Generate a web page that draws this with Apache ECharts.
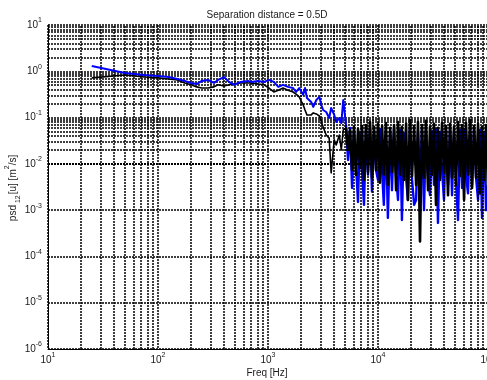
<!DOCTYPE html>
<html>
<head>
<meta charset="utf-8">
<script src="https://cdn.jsdelivr.net/npm/echarts@6/dist/echarts.min.js"></script>
<style>
html,body{margin:0;padding:0;background:#fff;}
#chart{width:487px;height:380px;}
</style>
</head>
<body>
<div id="chart"></div>
<script>
// ---- data ----
const freq = [
  25, 50, 75, 100, 125, 150, 175, 200, 225, 250,
  284, 323, 351, 398, 442, 490, 566, 658, 700, 811,
  921, 1020, 1130, 1240, 1370, 1520, 1690, 1800, 1920, 2090,
  2170, 2260, 2470, 2580, 2750, 2930, 3050, 3170, 3380, 3600,
  3750, 4000, 4170, 4450, 4640, 4830,
  5120, 5340, 5570, 5810, 6050, 6310, 6580, 6860, 7160, 7460,
  7780, 8110, 8460, 8820, 9200, 9590, 10000, 10400, 10900, 11300,
  11800, 12300, 12900, 13400, 14000, 14600, 15200, 15900, 16500, 17200,
  18000, 18700, 19500, 20400, 21300, 22200, 23100, 24100, 25100, 26200,
  27300, 28500, 29700, 31000, 32300, 33700, 35100, 36600, 38200, 39800,
  41500, 43300, 45200, 47100, 49100, 51200, 53400, 55700, 58100, 60600,
  63100, 65800, 68700, 71600, 74700, 77900, 81200, 84700, 88300, 92000,
  96000, 100000
];
const bluePsd = [
  1.30, 0.92, 0.83, 0.79, 0.75, 0.68, 0.62, 0.56, 0.53, 0.62,
  0.65, 0.56, 0.65, 0.75, 0.59, 0.51, 0.59, 0.62, 0.59, 0.62,
  0.59, 0.65, 0.59, 0.46, 0.51, 0.46, 0.435, 0.357, 0.435, 0.31,
  0.435, 0.265, 0.217, 0.17, 0.24, 0.28, 0.187, 0.146, 0.132, 0.098,
  0.161, 0.114, 0.080, 0.098, 0.076, 0.24,
  0.069, 0.0121, 0.060, 0.0030, 0.054, 0.0095, 0.0015, 0.049, 0.0074, 0.0013,
  0.054, 0.0058, 0.060, 0.0025, 0.051, 0.0074, 0.0045, 0.057, 0.0067, 0.0013,
  0.054, 0.00068, 0.049, 0.0027, 0.060, 0.0058, 0.00166, 0.054, 0.00061, 0.046,
  0.0050, 0.00166, 0.057, 0.0045, 0.0013, 0.00166, 0.051, 0.0041, 0.060, 0.0010,
  0.054, 0.0050, 0.0021, 0.051, 0.0035, 0.057, 0.00053, 0.049, 0.0074, 0.00166,
  0.054, 0.0035, 0.060, 0.0021, 0.051, 0.0045, 0.00061, 0.054, 0.0030, 0.057,
  0.0058, 0.0023, 0.051, 0.0035, 0.060, 0.0050, 0.00166, 0.054, 0.00068, 0.049,
  0.0010, 0.0035
];
const blackPsd = [
  0.72, 0.83, 0.75, 0.72, 0.68, 0.65, 0.56, 0.51, 0.46, 0.435,
  0.435, 0.46, 0.51, 0.48, 0.51, 0.53, 0.56, 0.56, 0.56, 0.53,
  0.51, 0.435, 0.357, 0.39, 0.435, 0.39, 0.357, 0.32, 0.28, 0.187,
  0.146, 0.114, 0.114, 0.126, 0.12, 0.108, 0.098, 0.063, 0.042, 0.036,
  0.0064, 0.033, 0.0256, 0.042, 0.020, 0.054,
  0.060, 0.020, 0.054, 0.0074, 0.063, 0.0058, 0.057, 0.0081, 0.066, 0.0045,
  0.069, 0.0067, 0.080, 0.0050, 0.063, 0.0074, 0.073, 0.0039, 0.066, 0.0058,
  0.076, 0.0035, 0.060, 0.0067, 0.069, 0.0027, 0.080, 0.0058, 0.063, 0.0045,
  0.073, 0.00166, 0.089, 0.0055, 0.066, 0.0035, 0.080, 0.00021, 0.069, 0.0050,
  0.085, 0.0027, 0.063, 0.0058, 0.073, 0.0013, 0.060, 0.0045, 0.076, 0.0067,
  0.066, 0.0021, 0.073, 0.0050, 0.063, 0.0035, 0.080, 0.0055, 0.069, 0.00166,
  0.076, 0.0058, 0.089, 0.0030, 0.066, 0.0050, 0.073, 0.0023, 0.063, 0.0045,
  0.069, 0.0027
];
const titleText = 'Separation distance = 0.5D';
const xName = 'Freq [Hz]';
const xRange = [10, 100000];
const yRange = [1e-6, 10];
const noiseStart = 46; // index of first point of the broadband-noise part (5.12 kHz)

// ---- minor grid positions (2..9 x 10^e) ----
function minors(e0, e1) {
  const out = [];
  for (let e = e0; e <= e1; e++) {
    for (let k = 2; k <= 9; k++) out.push(Number((k * Math.pow(10, e)).toPrecision(3)));
  }
  return out;
}
const xMinor = minors(1, 4);
const yMinor = minors(-6, 0);

const FONT = 'Liberation Sans, Arial, Helvetica, sans-serif';
const TXT = '#1a1a1a';
const gridStyle = { color: '#000', type: [2, 1], width: 1.5 };
const powRich = {
  b: { fontSize: 10, fontFamily: FONT, color: TXT, lineHeight: 16, verticalAlign: 'middle' },
  s: { fontSize: 7, fontFamily: FONT, color: TXT, lineHeight: 8, verticalAlign: 'top' }
};
function powLabel(v) {
  const e = Math.round(Math.log10(v));
  return '{b|10}{s|' + e + '}';
}
function pairs(vals, a, b) {
  const out = [];
  for (let i = a; i < b; i++) out.push([freq[i], vals[i]]);
  return out;
}
function lineSeries(name, vals, a, b, color, width, z) {
  return {
    type: 'line', name: name, z: z, showSymbol: false, symbol: 'none', silent: true,
    lineStyle: { color: color, width: width, join: 'round' },
    data: pairs(vals, a, b)
  };
}

const chart = echarts.init(document.getElementById('chart'), null, { renderer: 'canvas' });
chart.setOption({
  animation: false,
  backgroundColor: '#fff',
  grid: { left: 48, top: 25, width: 440, height: 324, containLabel: false, outerBoundsMode: 'none' },
  xAxis: {
    type: 'log', logBase: 10, min: xRange[0], max: xRange[1], splitNumber: 4,
    axisLine: { show: true, lineStyle: { color: '#000', width: 1 } },
    axisTick: { show: false },
    axisLabel: { margin: 3, formatter: powLabel, rich: powRich, hideOverlap: false, showMaxLabel: true, showMinLabel: true },
    splitLine: { show: true, lineStyle: gridStyle }
  },
  yAxis: {
    type: 'log', logBase: 10, min: yRange[0], max: yRange[1], splitNumber: 7,
    axisLine: { show: true, lineStyle: { color: '#000', width: 1 } },
    axisTick: { show: false },
    axisLabel: { margin: 6, formatter: powLabel, rich: powRich, showMaxLabel: true, showMinLabel: true },
    splitLine: { show: true, lineStyle: gridStyle }
  },
  graphic: [
    { type: 'text', x: 267, y: 15, style: { text: titleText, font: '10px ' + FONT, fill: TXT, align: 'center', verticalAlign: 'middle' } },
    { type: 'text', x: 267, y: 373, style: { text: xName, font: '10px ' + FONT, fill: TXT, align: 'center', verticalAlign: 'middle' } },
    { type: 'text', x: 13, y: 188, rotation: Math.PI / 2,
      style: {
        text: '{n|psd}{d|12}{n|[u] [m}{u|2}{n|/s]}',
        align: 'center', verticalAlign: 'middle',
        rich: {
          n: { fontSize: 10, fontFamily: FONT, fill: TXT, color: TXT, lineHeight: 18, verticalAlign: 'middle' },
          d: { fontSize: 7, fontFamily: FONT, fill: TXT, color: TXT, lineHeight: 8, verticalAlign: 'bottom', padding: [0, 1, 0, 2] },
          u: { fontSize: 7, fontFamily: FONT, fill: TXT, color: TXT, lineHeight: 8, verticalAlign: 'top' }
        }
      } }
  ],
  series: [
    {
      type: 'line', name: 'grid', data: [], z: 1, silent: true,
      markLine: {
        silent: true, symbol: ['none', 'none'], animation: false,
        label: { show: false },
        lineStyle: gridStyle,
        emphasis: { disabled: true },
        data: xMinor.map(v => ({ xAxis: v })).concat(yMinor.map(v => ({ yAxis: v })))
      }
    },
    lineSeries('black', blackPsd, 0, noiseStart + 1, '#000', 1.6, 4),
    lineSeries('blue', bluePsd, 0, noiseStart + 1, '#0000ff', 2, 5),
    lineSeries('blue', bluePsd, noiseStart, freq.length, '#0000ff', 2.4, 3),
    lineSeries('black', blackPsd, noiseStart, freq.length, '#000', 2.6, 4)
  ]
});
</script>
</body>
</html>
